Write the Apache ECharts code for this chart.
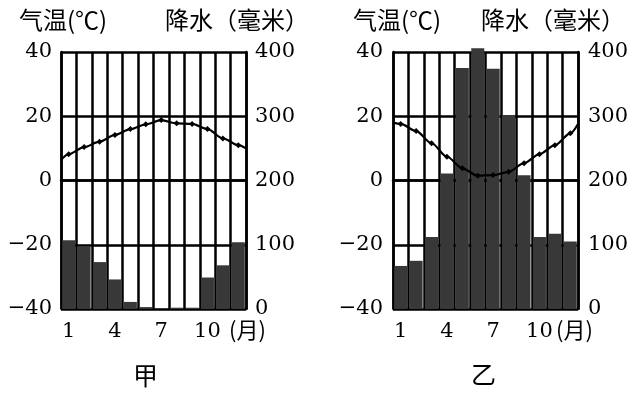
<!DOCTYPE html>
<html>
<head>
<meta charset="utf-8">
<script src="https://cdn.jsdelivr.net/npm/echarts@6/dist/echarts.min.js"></script>
<style>
html,body{margin:0;padding:0;background:#fff;}
#c{width:642px;height:395px;}
</style>
</head>
<body>
<div id="c"></div>
<script>
// Categories and tick labels
var months = ['1','2','3','4','5','6','7','8','9','10','11','12'];
var tempTicks = [-40, -20, 0, 20, 40];
var precipTicks = [0, 100, 200, 300, 400];

// 甲 data
var jiaPrecip = [107, 98, 73, 46, 11, 3, 1, 2, 2, 49, 68, 104];
var jiaTempX = [0.5, 1, 2, 3, 4, 5, 6, 7, 8, 9, 10, 11, 12, 12.5];
var jiaTemp  = [6.4, 8.2, 10.4, 12.1, 14.2, 16, 17.5, 18.8, 17.8, 17.6, 16, 13.1, 11, 10];

// 乙 data
var yiPrecip = [67, 75, 112, 211, 375, 406, 374, 302, 208, 112, 117, 105];
var yiTempX = [0.5, 1, 2, 3, 4, 5, 6, 7, 8, 9, 10, 11, 12, 12.5];
var yiTemp  = [18, 17.6, 15.4, 11.6, 7.4, 3.8, 1.5, 1.7, 2.7, 5.4, 8.2, 11, 14.7, 17.6];

var numFont = 'DejaVu Serif, Liberation Serif, serif';
var cjkFont = 'Noto Sans CJK SC, sans-serif';

function lineData(xs, ys) {
  return xs.map(function (x, i) {
    var item = { value: [x, ys[i]] };
    if (x % 1 !== 0) item.symbol = 'none';
    return item;
  });
}
function minus(v) { return String(v).replace('-', '\u2212'); }

var black = '#000';
var lw = 2.5;
function catAxis(gi) {
  return {
    type: 'category', gridIndex: gi, data: months, boundaryGap: true,
    axisLine: { show: true, lineStyle: { color: black, width: lw } },
    axisTick: { show: false },
    axisLabel: { interval: 2, color: black, fontFamily: numFont, fontSize: 21, margin: 12 },
    splitLine: { show: true, interval: 0, lineStyle: { color: black, width: lw } }
  };
}
function valXAxis(gi) {
  return { type: 'value', gridIndex: gi, min: 0.5, max: 12.5, show: false };
}
function tempAxis(gi, m) {
  return {
    type: 'value', gridIndex: gi, position: 'left',
    min: tempTicks[0], max: tempTicks[tempTicks.length - 1], interval: 20,
    axisLine: { show: true, lineStyle: { color: black, width: lw } },
    axisTick: { show: false },
    axisLabel: { color: black, fontFamily: numFont, fontSize: 21, margin: m, formatter: minus },
    splitLine: { show: true, lineStyle: { color: black, width: lw } }
  };
}
function precipAxis(gi, m) {
  return {
    type: 'value', gridIndex: gi, position: 'right',
    min: precipTicks[0], max: precipTicks[precipTicks.length - 1], interval: 100,
    axisLine: { show: true, lineStyle: { color: black, width: lw } },
    axisTick: { show: false },
    axisLabel: { color: black, fontFamily: numFont, fontSize: 21, margin: m },
    splitLine: { show: false }
  };
}

function barSeries(xi, yi, data) {
  return {
    type: 'bar', xAxisIndex: xi, yAxisIndex: yi, data: data,
    barWidth: 13, clip: false, z: 3,
    itemStyle: { color: '#383838' }
  };
}
function lineSeries(xi, yi, xs, ys) {
  return {
    type: 'line', xAxisIndex: xi, yAxisIndex: yi, data: lineData(xs, ys),
    smooth: 0.3, smoothMonotone: 'x', symbol: 'diamond', symbolSize: 6, z: 5,
    lineStyle: { color: black, width: 2.2 },
    itemStyle: { color: black }
  };
}

var chart = echarts.init(document.getElementById('c'));
chart.setOption({
  backgroundColor: '#fff',
  animation: false,
  grid: [
    { left: 61, top: 52, width: 185, height: 257, show: false },
    { left: 393, top: 52, width: 185, height: 257, show: false }
  ],
  xAxis: [catAxis(0), valXAxis(0), catAxis(1), valXAxis(1)],
  yAxis: [tempAxis(0, 9), precipAxis(0, 9), tempAxis(1, 10), precipAxis(1, 10)],
  series: [
    barSeries(0, 1, jiaPrecip),
    lineSeries(1, 0, jiaTempX, jiaTemp),
    barSeries(2, 3, yiPrecip),
    lineSeries(3, 2, yiTempX, yiTemp)
  ],
  graphic: [
    { type: 'text', left: 19, top: 8, style: { text: '气温(℃)', fill: black, font: '24px ' + cjkFont }, z: 10 },
    { type: 'text', left: 165, top: 8, style: { text: '降水（毫米）', fill: black, font: '24px ' + cjkFont }, z: 10 },
    { type: 'text', left: 353, top: 8, style: { text: '气温(℃)', fill: black, font: '24px ' + cjkFont }, z: 10 },
    { type: 'text', left: 481, top: 8, style: { text: '降水（毫米）', fill: black, font: '24px ' + cjkFont }, z: 10 },
    { type: 'text', left: 229, top: 319, style: { text: '(月)', fill: black, font: '22px ' + cjkFont }, z: 10 },
    { type: 'text', left: 556, top: 319, style: { text: '(月)', fill: black, font: '22px ' + cjkFont }, z: 10 },
    { type: 'text', left: 133, top: 363, style: { text: '甲', fill: black, font: '25px ' + cjkFont }, z: 10 },
    { type: 'text', left: 471, top: 362, style: { text: '乙', fill: black, font: '25px ' + cjkFont }, z: 10 }
  ]
});
</script>
</body>
</html>
